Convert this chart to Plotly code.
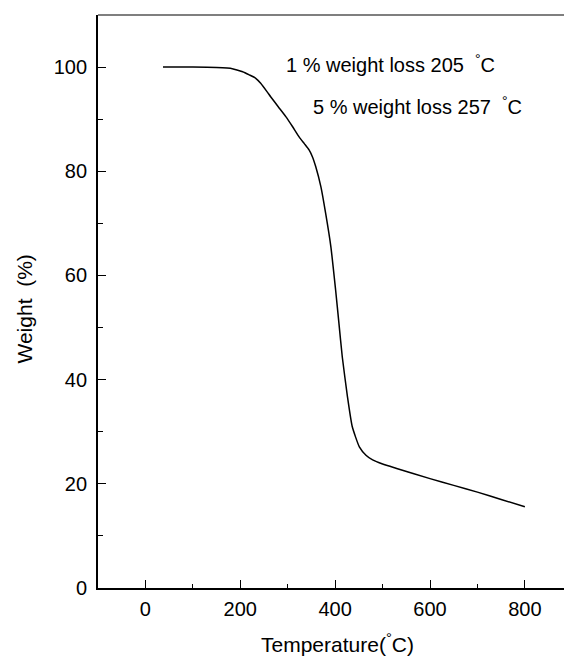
import plotly.graph_objects as go

# TGA curve: temperature (°C) vs residual weight (%)
temperature = [37, 100, 150, 183, 205, 219, 232, 243, 257, 264, 280, 296, 310, 324, 335, 345,
               352, 359, 370, 380, 391, 401, 408, 415, 426, 436, 451, 465, 479, 500, 528,
               600, 650, 700, 750, 800]
weight = [100.0, 100.0, 99.9, 99.7, 99.1, 98.5, 97.9, 96.9, 95.2, 94.3, 92.4, 90.5, 88.6, 86.6,
          85.3, 84.1, 82.8, 80.9, 77.0, 71.9, 65.5, 57.2, 50.8, 44.4, 36.7, 31.0, 27.1, 25.5,
          24.6, 23.8, 23.0, 21.0, 19.7, 18.4, 17.0, 15.6]

x_ticks = [0, 200, 400, 600, 800]
y_ticks = [0, 20, 40, 60, 80, 100]

notes = ["1 % weight loss 205  <sup>°</sup>C", "5 % weight loss 257  <sup>°</sup>C"]
note_pos = [(292, 100.6), (349, 92.6)]

FONT = "Liberation Sans, Arial, sans-serif"

fig = go.Figure()
fig.add_trace(go.Scatter(
    x=temperature, y=weight, mode="lines",
    line=dict(color="black", width=1.5, shape="spline", smoothing=0.5),
    showlegend=False, hoverinfo="skip",
))

axis_common = dict(
    showgrid=False, zeroline=False, showline=True, linecolor="black", linewidth=1.8,
    ticks="inside", tickcolor="black", tickwidth=1.3,
    tickfont=dict(family=FONT, size=20, color="black"),
)

fig.update_xaxes(
    range=[-100, 882.5], tickvals=x_ticks, ticklen=8, ticklabelstandoff=2,
    minor=dict(tickvals=[100, 300, 500, 700], ticklen=4, ticks="inside",
               tickcolor="black", tickwidth=1.2),
    **axis_common,
)
fig.update_yaxes(
    range=[0, 110], tickvals=y_ticks, ticklen=8, ticklabelstandoff=5,
    minor=dict(tickvals=[10, 30, 50, 70, 90], ticklen=5, ticks="inside",
               tickcolor="black", tickwidth=1.2),
    **axis_common,
)

# top frame line
fig.add_shape(type="line", xref="paper", yref="paper", x0=0, x1=1, y0=1, y1=1,
              line=dict(color="#555555", width=1.5))

for text, (tx, ty) in zip(notes, note_pos):
    fig.add_annotation(x=tx, y=ty, xref="x", yref="y", text=text, showarrow=False,
                       xanchor="left", yanchor="middle",
                       font=dict(family=FONT, size=20, color="black"))

fig.add_annotation(x=405, y=0, xref="x", yref="paper", yshift=-55,
                   text="Temperature(<sup>°</sup>C)", showarrow=False,
                   xanchor="center", yanchor="middle",
                   font=dict(family=FONT, size=21, color="black"))
fig.add_annotation(x=0, y=0.5, xref="paper", yref="paper", xshift=-74, yshift=-8,
                   text="Weight  (%)", textangle=-90, showarrow=False,
                   xanchor="center", yanchor="middle",
                   font=dict(family=FONT, size=21, color="black"))

fig.update_layout(
    width=564, height=659,
    margin=dict(l=98, r=0, t=15, b=71),
    paper_bgcolor="white", plot_bgcolor="white",
)

fig.write_html("out.html")
